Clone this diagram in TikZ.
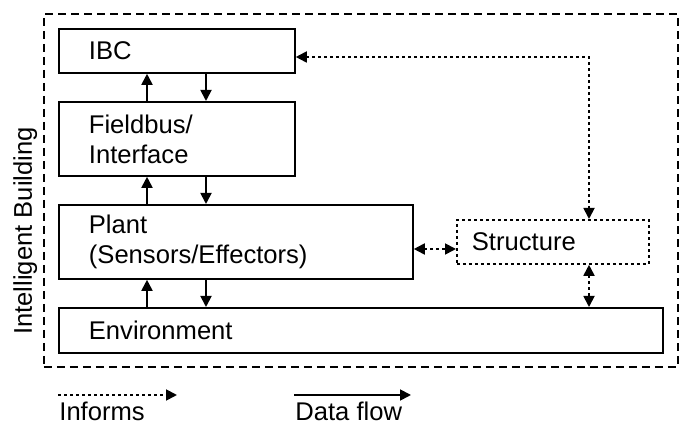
\documentclass[tikz,border=0pt]{standalone}
\usepackage{fontspec}
\setmainfont{Liberation Sans}
\usetikzlibrary{arrows.meta}
\begin{document}
\begin{tikzpicture}[x=0.5pt,y=-0.5pt,
  font=\fontsize{12.8}{15}\selectfont,
  box/.style={draw, line width=0.9pt, anchor=north west, inner xsep=15pt,
    inner ysep=0pt, align=left},
  dotbox/.style={box, line width=0.9pt, dash pattern=on 1.5pt off 1.5pt,
    inner xsep=7.5pt},
  flow/.style={-{Triangle[length=5.5pt,width=5.5pt]}, line width=0.9pt},
  inform/.style={{Triangle[length=5.5pt,width=5.5pt]}-{Triangle[length=5.5pt,width=5.5pt]},
    line width=0.9pt, dash pattern=on 1.5pt off 1.5pt},
  informone/.style={-{Triangle[length=5.5pt,width=5.5pt]},
    line width=0.9pt, dash pattern=on 1.5pt off 1.5pt},
]
\useasboundingbox (0,0) rectangle (681,427);

% building boundary and its label
\node[draw, line width=0.9pt, dash pattern=on 4pt off 2.5pt, anchor=north west,
  inner sep=0pt, minimum width=317pt, minimum height=176.5pt] (bldg) at (43,13) {};
\node[rotate=90, anchor=base, inner sep=0pt] (lbl) at (32,231) {Intelligent Building};

% layers
\node[box, text width=88pt, minimum height=22pt] (ibc) at (58,28) {IBC};
\node[box, text width=88pt, minimum height=37pt] (fb) at (58,101) {Fieldbus/\\Interface};
\node[box, text width=147pt, minimum height=37pt] (plant) at (58,204) {Plant\\(Sensors/Effectors)};
\node[box, text width=272pt, minimum height=22.5pt] (env) at (58,307) {Environment};
\node[dotbox, text width=81pt, minimum height=22pt] (struct) at (456,219) {Structure};

% data flow between layers
\coordinate (ux) at (147,0);
\coordinate (dx) at (206,0);
\draw[flow] (fb.north -| ux) -- (ibc.south -| ux);
\draw[flow] (ibc.south -| dx) -- (fb.north -| dx);
\draw[flow] (plant.north -| ux) -- (fb.south -| ux);
\draw[flow] (fb.south -| dx) -- (plant.north -| dx);
\draw[flow] (env.north -| ux) -- (plant.south -| ux);
\draw[flow] (plant.south -| dx) -- (env.north -| dx);

% informs relations with the structure
\coordinate (iy) at (0,57);
\coordinate (sx) at (589,0);
\coordinate (py) at (0,249);
\draw[inform] (ibc.east |- iy) -| (struct.north -| sx);
\draw[inform] (plant.east |- py) -- (struct.west |- py);
\draw[inform] (struct.south -| sx) -- (env.north -| sx);

% legend
\coordinate (la) at (58,395);
\coordinate (lb) at (177,395);
\coordinate (lc) at (294,395);
\coordinate (ld) at (411,395);
\draw[informone] (la) -- (lb);
\draw[flow] (lc) -- (ld);
\node[anchor=base west, inner sep=0pt] (inf) at (59,421) {Informs};
\node[anchor=base west, inner sep=0pt] (df) at (295,421) {Data flow};
\end{tikzpicture}
\end{document}
